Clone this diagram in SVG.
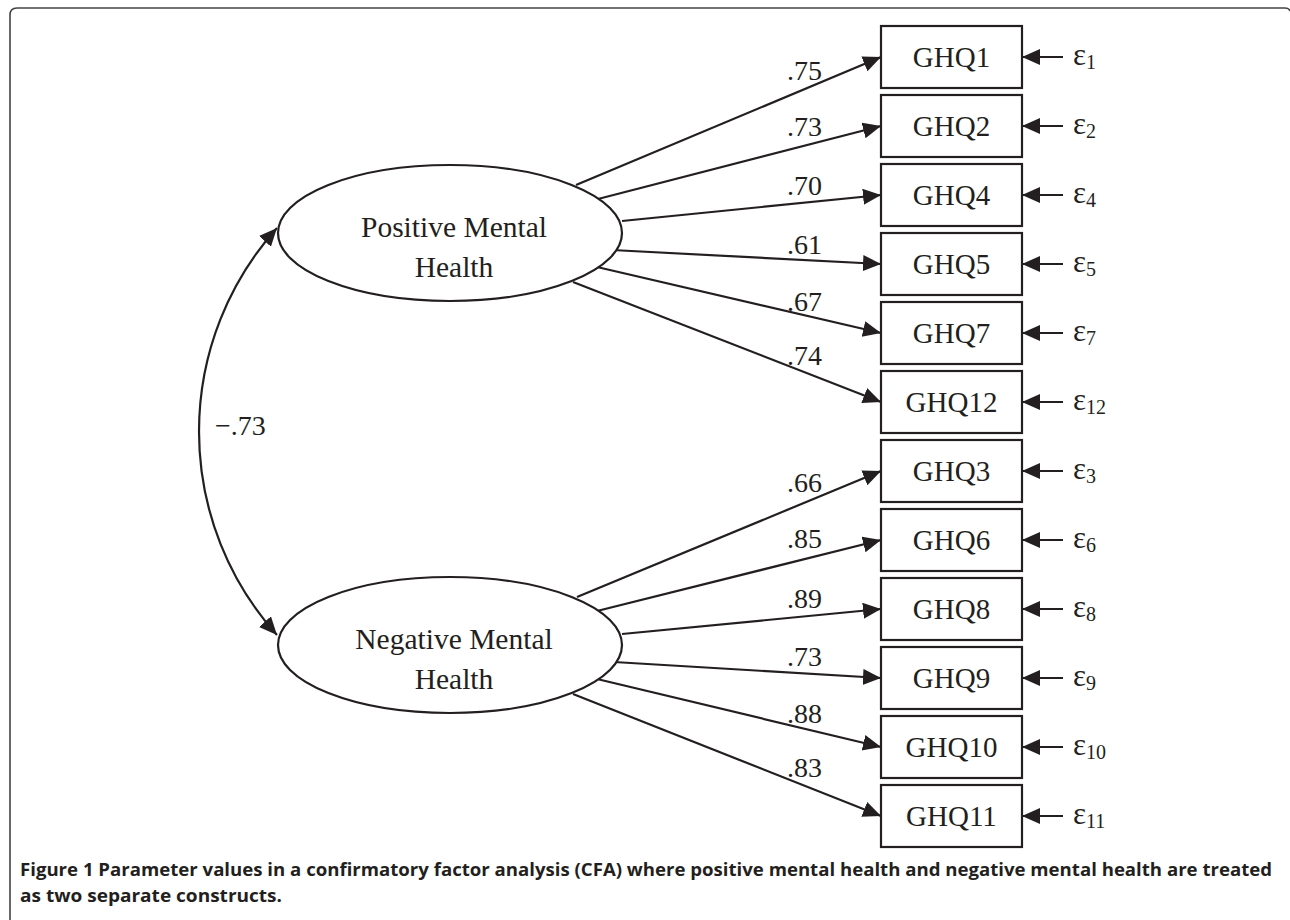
<svg xmlns="http://www.w3.org/2000/svg" width="1290" height="920" viewBox="0 0 1290 920">
<style>
.t{font-family:"Liberation Serif","Times New Roman",serif;fill:#231f20;}
.lbl{font-size:28px;}
.nm{font-size:29px;}
.big{font-size:29.5px;}
.box{fill:#fff;stroke:#231f20;stroke-width:2.2;}
.ell{fill:#fff;stroke:#231f20;stroke-width:2.2;}
.ln{stroke:#231f20;stroke-width:2.2;fill:none;marker-end:url(#ah);}
.eps{font-size:31px;}
.sub{font-size:20px;}
.cap{font-family:"Open Sans","Liberation Sans",sans-serif;font-weight:bold;font-size:17px;fill:#231f20;}
</style>
<defs>
<marker id="ah" markerUnits="userSpaceOnUse" markerWidth="20" markerHeight="18" refX="18" refY="8" orient="auto-start-reverse" viewBox="0 0 20 18">
<path d="M0,0 L18,8 L0,16 z" fill="#231f20"/>
</marker>
</defs>
<rect width="1290" height="920" fill="#fff"/>
<path d="M10,920 L10,15 Q10,8 17,8 L1285,8 Q1289,8 1290,11" fill="none" stroke="#444" stroke-width="1.6"/>

<g id="connectors">
<line class="ln" x1="576" y1="185" x2="881" y2="57"/>
<line class="ln" x1="598" y1="199" x2="881" y2="126"/>
<line class="ln" x1="622" y1="221" x2="881" y2="195"/>
<line class="ln" x1="612" y1="250" x2="881" y2="264"/>
<line class="ln" x1="597" y1="267" x2="881" y2="333"/>
<line class="ln" x1="573" y1="282" x2="881" y2="402"/>
<line class="ln" x1="577" y1="597" x2="881" y2="471"/>
<line class="ln" x1="597" y1="611" x2="881" y2="540"/>
<line class="ln" x1="622" y1="634" x2="881" y2="609"/>
<line class="ln" x1="614" y1="662" x2="881" y2="678"/>
<line class="ln" x1="597" y1="679" x2="881" y2="747"/>
<line class="ln" x1="573" y1="694" x2="881" y2="816"/>
<line class="ln" x1="1063" y1="57" x2="1022" y2="57"/>
<line class="ln" x1="1063" y1="126" x2="1022" y2="126"/>
<line class="ln" x1="1063" y1="195" x2="1022" y2="195"/>
<line class="ln" x1="1063" y1="264" x2="1022" y2="264"/>
<line class="ln" x1="1063" y1="333" x2="1022" y2="333"/>
<line class="ln" x1="1063" y1="402" x2="1022" y2="402"/>
<line class="ln" x1="1063" y1="471" x2="1022" y2="471"/>
<line class="ln" x1="1063" y1="540" x2="1022" y2="540"/>
<line class="ln" x1="1063" y1="609" x2="1022" y2="609"/>
<line class="ln" x1="1063" y1="678" x2="1022" y2="678"/>
<line class="ln" x1="1063" y1="747" x2="1022" y2="747"/>
<line class="ln" x1="1063" y1="816" x2="1022" y2="816"/>
<path class="ln" style="marker-start:url(#ah)" d="M277,228 A304.5,304.5 0 0 0 277,635"/>
<g class="t lbl">
<text x="787" y="80">.75</text>
<text x="787" y="136">.73</text>
<text x="787" y="195">.70</text>
<text x="787" y="254">.61</text>
<text x="787" y="311">.67</text>
<text x="787" y="365">.74</text>
<text x="787" y="492">.66</text>
<text x="787" y="548">.85</text>
<text x="787" y="608">.89</text>
<text x="787" y="666">.73</text>
<text x="787" y="723">.88</text>
<text x="787" y="777">.83</text>
<text x="215" y="435">−.73</text>
</g>
</g>

<g id="pmh">
<ellipse class="ell" cx="450" cy="233" rx="172" ry="68"/>
<text class="t big" x="454" y="237" text-anchor="middle">Positive Mental</text>
<text class="t big" x="454" y="277" text-anchor="middle">Health</text>
</g>
<g id="nmh">
<ellipse class="ell" cx="450" cy="645" rx="172" ry="68"/>
<text class="t big" x="454" y="649" text-anchor="middle">Negative Mental</text>
<text class="t big" x="454" y="689" text-anchor="middle">Health</text>
</g>

<g id="ghq1"><rect class="box" x="881" y="26" width="141" height="62"/><text class="t nm" x="951.5" y="67" text-anchor="middle">GHQ1</text></g>
<g id="ghq2"><rect class="box" x="881" y="95" width="141" height="62"/><text class="t nm" x="951.5" y="136" text-anchor="middle">GHQ2</text></g>
<g id="ghq4"><rect class="box" x="881" y="164" width="141" height="62"/><text class="t nm" x="951.5" y="205" text-anchor="middle">GHQ4</text></g>
<g id="ghq5"><rect class="box" x="881" y="233" width="141" height="62"/><text class="t nm" x="951.5" y="274" text-anchor="middle">GHQ5</text></g>
<g id="ghq7"><rect class="box" x="881" y="302" width="141" height="62"/><text class="t nm" x="951.5" y="343" text-anchor="middle">GHQ7</text></g>
<g id="ghq12"><rect class="box" x="881" y="371" width="141" height="62"/><text class="t nm" x="951.5" y="412" text-anchor="middle">GHQ12</text></g>
<g id="ghq3"><rect class="box" x="881" y="440" width="141" height="62"/><text class="t nm" x="951.5" y="481" text-anchor="middle">GHQ3</text></g>
<g id="ghq6"><rect class="box" x="881" y="509" width="141" height="62"/><text class="t nm" x="951.5" y="550" text-anchor="middle">GHQ6</text></g>
<g id="ghq8"><rect class="box" x="881" y="578" width="141" height="62"/><text class="t nm" x="951.5" y="619" text-anchor="middle">GHQ8</text></g>
<g id="ghq9"><rect class="box" x="881" y="647" width="141" height="62"/><text class="t nm" x="951.5" y="688" text-anchor="middle">GHQ9</text></g>
<g id="ghq10"><rect class="box" x="881" y="716" width="141" height="62"/><text class="t nm" x="951.5" y="757" text-anchor="middle">GHQ10</text></g>
<g id="ghq11"><rect class="box" x="881" y="785" width="141" height="62"/><text class="t nm" x="951.5" y="826" text-anchor="middle">GHQ11</text></g>

<g id="errors" class="t">
<text class="eps" x="1073" y="65">ε<tspan class="sub" dy="4">1</tspan></text>
<text class="eps" x="1073" y="134">ε<tspan class="sub" dy="4">2</tspan></text>
<text class="eps" x="1073" y="203">ε<tspan class="sub" dy="4">4</tspan></text>
<text class="eps" x="1073" y="272">ε<tspan class="sub" dy="4">5</tspan></text>
<text class="eps" x="1073" y="341">ε<tspan class="sub" dy="4">7</tspan></text>
<text class="eps" x="1073" y="410">ε<tspan class="sub" dy="4">12</tspan></text>
<text class="eps" x="1073" y="479">ε<tspan class="sub" dy="4">3</tspan></text>
<text class="eps" x="1073" y="548">ε<tspan class="sub" dy="4">6</tspan></text>
<text class="eps" x="1073" y="617">ε<tspan class="sub" dy="4">8</tspan></text>
<text class="eps" x="1073" y="686">ε<tspan class="sub" dy="4">9</tspan></text>
<text class="eps" x="1073" y="755">ε<tspan class="sub" dy="4">10</tspan></text>
<text class="eps" x="1073" y="824">ε<tspan class="sub" dy="4">11</tspan></text>
</g>

<g id="caption">
<text class="cap" x="20" y="876" textLength="1252" lengthAdjust="spacingAndGlyphs">Figure 1 Parameter values in a confirmatory factor analysis (CFA) where positive mental health and negative mental health are treated</text>
<text class="cap" x="20" y="902" textLength="262" lengthAdjust="spacingAndGlyphs">as two separate constructs.</text>
</g>
</svg>
